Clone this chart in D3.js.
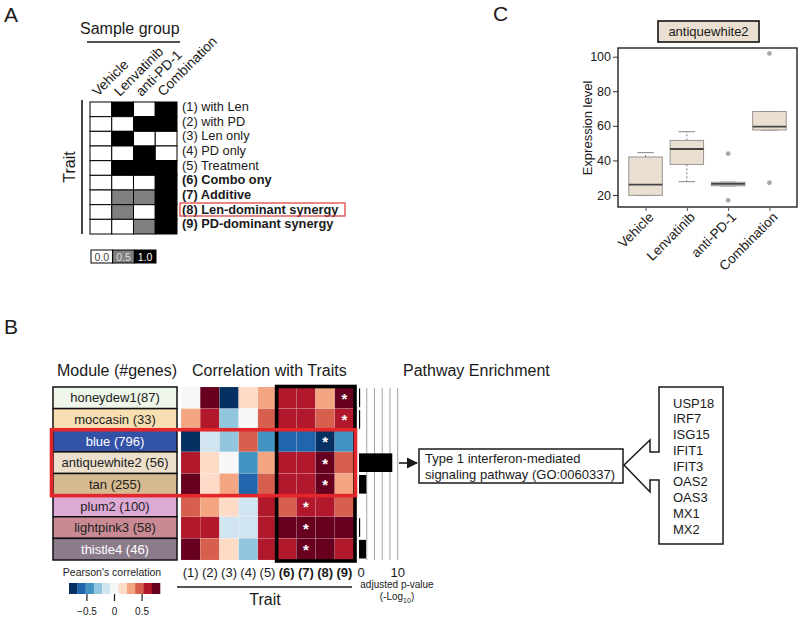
<!DOCTYPE html>
<html><head><meta charset="utf-8">
<script src="https://cdn.jsdelivr.net/npm/d3@7"></script>
<style>body{margin:0;background:#fff}svg{font-family:"Liberation Sans",Arial,Helvetica,sans-serif}</style>
</head><body><svg id="c" width="800" height="620"></svg>
<script>
// ---------- DATA ----------
// Panel A
const groups = ["Vehicle", "Lenvatinib", "anti-PD-1", "Combination"];
const traitNames = ["with Len", "with PD", "Len only", "PD only", "Treatment",
  "Combo ony", "Additive", "Len-dominant synergy", "PD-dominant synergy"];
const traitMatrix = [
  [0, 1, 0, 1],
  [0, 0, 1, 1],
  [0, 1, 0, 0],
  [0, 0, 1, 0],
  [0, 1, 1, 1],
  [0, 0, 0, 1],
  [0, 0.5, 0.5, 1],
  [0, 0.5, 0, 1],
  [0, 0, 0.5, 1]
];
const legendValues = [0, 0.5, 1];
// Panel B
const moduleLabels = ["honeydew1(87)", "moccasin (33)", "blue (796)", "antiquewhite2 (56)",
  "tan (255)", "plum2 (100)", "lightpink3 (58)", "thistle4 (46)"];
const moduleColors = ["#eff6ea", "#f8dfb2", "#3252a8", "#ecdfcc", "#d5b98f", "#ddaad6", "#c98a93", "#8b7b8b"];
const moduleTextColors = ["#222", "#222", "#fff", "#222", "#222", "#222", "#222", "#fff"];
const traitTicks = ["(1)", "(2)", "(3)", "(4)", "(5)", "(6)", "(7)", "(8)", "(9)"];
const corr = [
  [0.0, 0.75, -0.75, 0.15, 0.3, 0.6, 0.6, 0.3, 0.75],
  [0.3, 0.6, -0.3, 0.0, 0.45, 0.6, 0.6, 0.45, 0.6],
  [-0.75, -0.15, -0.3, 0.45, -0.45, -0.6, -0.6, -0.75, -0.45],
  [0.6, 0.15, 0.0, -0.45, 0.3, 0.6, 0.6, 0.75, 0.45],
  [0.75, 0.15, 0.3, -0.6, 0.45, 0.6, 0.6, 0.75, 0.3],
  [0.45, 0.3, 0.15, -0.15, 0.6, 0.45, 0.6, 0.6, 0.45],
  [0.6, 0.6, -0.15, -0.15, 0.6, 0.75, 0.75, 0.75, 0.75],
  [0.75, 0.45, 0.15, -0.3, 0.6, 0.6, 0.75, 0.75, 0.6]
];
const starTrait = [9, 9, 8, 8, 8, 7, 7, 7];
const enrichment = [0.3, 0.3, 0, 8.6, 1.9, 0, 0.3, 1.8];
const enrichTicks = [0, 10];
const corrLegendTicks = [-0.5, 0, 0.5];
const pathwayLines = ["Type 1 interferon-mediated", "signaling pathway (GO:0060337)"];
const genes = ["USP18", "IRF7", "ISG15", "IFIT1", "IFIT3", "OAS2", "OAS3", "MX1", "MX2"];
// Panel C
const boxGroups = ["Vehicle", "Lenvatinib", "anti-PD-1", "Combination"];
const boxQ1 = [19.8, 37.7, 25.3, 57.6];
const boxMedian = [26, 46.6, 26.4, 59.6];
const boxQ3 = [42, 51.6, 27.4, 68.3];
const whiskerLow = [19.8, 27.7, 25.3, 57.6];
const whiskerHigh = [44.5, 56.6, 27.4, 68.3];
const outliers = [[], [], [43.9, 16.9], [101.9, 27.1]];
const yTicksC = [20, 40, 60, 80, 100];

// ---------- DRAW ----------
const svg = d3.select("#c");
svg.append("rect").attr("width", 800).attr("height", 620).attr("fill", "#fff");
const ink = "#1a1a1a";

function label(x, y, s, size, opts = {}) {
  return svg.append("text").attr("x", x).attr("y", y).text(s)
    .attr("font-size", size).attr("fill", opts.fill || ink)
    .attr("text-anchor", opts.anchor || "start")
    .attr("font-weight", opts.bold ? "bold" : "normal");
}

// ===== Panel A =====
label(4, 22, "A", 21);
label(80, 34, "Sample group", 16);
svg.append("line").attr("x1", 87).attr("x2", 180).attr("y1", 42).attr("y2", 42).attr("stroke", ink).attr("stroke-width", 1.6);

const ax = d3.scaleBand().domain(groups).range([90, 177]);
const ay = d3.scaleBand().domain(d3.range(traitNames.length)).range([102, 234]);
const grey = d3.scaleLinear().domain([0, 1]).range(["#ffffff", "#000000"]);

const gA = svg.append("g");
traitMatrix.forEach((row, i) => {
  row.forEach((v, j) => {
    gA.append("rect").attr("x", ax(groups[j])).attr("y", ay(i))
      .attr("width", ax.bandwidth()).attr("height", ay.bandwidth())
      .attr("fill", grey(v)).attr("stroke", "#000").attr("stroke-width", 1);
  });
});
groups.forEach(g => {
  const x = ax(g) + ax.bandwidth() / 2 - 3;
  svg.append("text").attr("transform", `translate(${x},97) rotate(-45)`)
    .text(g).attr("font-size", 13.8).attr("fill", ink);
});
traitNames.forEach((t, i) => {
  label(182, ay(i) + ay.bandwidth() / 2 + 1.8, `(${i + 1}) ${t}`, 12.8, { bold: i >= 5 });
});
// highlight trait 8
svg.append("rect").attr("x", 180).attr("y", ay(7) + ay.bandwidth() / 2 - 9)
  .attr("width", 165).attr("height", 13).attr("fill", "none")
  .attr("stroke", "#e0474a").attr("stroke-width", 1.3);
// Trait axis
svg.append("line").attr("x1", 82).attr("x2", 82).attr("y1", 100).attr("y2", 234).attr("stroke", ink).attr("stroke-width", 1.6);
svg.append("text").attr("transform", "translate(75,167) rotate(-90)").attr("text-anchor", "middle")
  .text("Trait").attr("font-size", 16).attr("fill", ink);
// legend
const lx = d3.scaleBand().domain(legendValues).range([91, 156]);
legendValues.forEach(v => {
  svg.append("rect").attr("x", lx(v)).attr("y", 250).attr("width", lx.bandwidth()).attr("height", 13)
    .attr("fill", grey(v)).attr("stroke", "#000").attr("stroke-width", 1);
  label(lx(v) + lx.bandwidth() / 2, 260.5, v.toFixed(1), 10.5,
    { anchor: "middle", fill: v === 0 ? "#444" : (v === 1 ? "#fff" : "#ddd") });
});

// ===== Panel B =====
label(4, 334, "B", 21);
label(57, 376, "Module (#genes)", 16);
label(192, 376, "Correlation with Traits", 16);
label(403, 376, "Pathway Enrichment", 16);

const my = d3.scaleBand().domain(d3.range(moduleLabels.length)).range([387, 560]);
const hx = d3.scaleBand().domain(traitTicks).range([181, 354]);
const corrColor = d3.scaleQuantize().domain([-0.825, 0.825]).range(d3.schemeRdBu[11].slice().reverse());

moduleLabels.forEach((m, i) => {
  svg.append("rect").attr("x", 53).attr("y", my(i)).attr("width", 124).attr("height", my.bandwidth())
    .attr("fill", moduleColors[i]).attr("stroke", "#111").attr("stroke-width", 1.5);
  label(115, my(i) + my.bandwidth() / 2 + 4.6, m, 13, { anchor: "middle", fill: moduleTextColors[i] });
});
corr.forEach((row, i) => {
  row.forEach((v, j) => {
    svg.append("rect").attr("x", hx(traitTicks[j])).attr("y", my(i))
      .attr("width", hx.bandwidth()).attr("height", my.bandwidth())
      .attr("fill", corrColor(v)).attr("stroke", "rgba(255,255,255,0.18)").attr("stroke-width", 0.6);
  });
  const st = traitTicks[starTrait[i] - 1];
  label(hx(st) + hx.bandwidth() / 2, my(i) + my.bandwidth() / 2 + 6, "*", 15, { anchor: "middle", fill: "#fff", bold: true });
});
// black frame around traits 6-9
svg.append("rect").attr("x", hx("(6)") - 0.5).attr("y", 386.5)
  .attr("width", hx("(9)") + hx.bandwidth() - hx("(6)") + 1.5).attr("height", 174.5)
  .attr("fill", "none").attr("stroke", "#000").attr("stroke-width", 3.6);
// red frame around blue / antiquewhite2 / tan
svg.append("rect").attr("x", 51.5).attr("y", my(2) - 0.5)
  .attr("width", 304).attr("height", my(5) - my(2) + 1)
  .attr("fill", "none").attr("stroke", "#e3262b").attr("stroke-width", 3.6);
// trait axis labels
traitTicks.forEach((t, j) => {
  label(hx(t) + hx.bandwidth() / 2, 577, t, 13, { anchor: "middle", bold: j >= 5 });
});
svg.append("line").attr("x1", 177).attr("x2", 352).attr("y1", 587).attr("y2", 587).attr("stroke", ink).attr("stroke-width", 1.6);
label(265, 605, "Trait", 16, { anchor: "middle" });

// Pearson legend
label(112, 576, "Pearson's correlation", 10.5, { anchor: "middle" });
const lgScale = d3.scaleLinear().domain([-0.825, 0.825]).range([69, 160]);
const bins = corrColor.range();
bins.forEach((c, k) => {
  const ext = corrColor.invertExtent(c);
  svg.append("rect").attr("x", lgScale(ext[0])).attr("y", 583)
    .attr("width", lgScale(ext[1]) - lgScale(ext[0]) + 0.3).attr("height", 11).attr("fill", c);
});
corrLegendTicks.forEach(t => {
  svg.append("line").attr("x1", lgScale(t)).attr("x2", lgScale(t)).attr("y1", 594).attr("y2", 601).attr("stroke", ink).attr("stroke-width", 1.2);
  label(lgScale(t), 615, t === 0 ? "0" : d3.format(".1f")(t).replace("-", "\u2212"), 10, { anchor: "middle" });
});

// enrichment bars
const ex = d3.scaleLinear().domain([0, 10]).range([359, 397.7]);
[2, 4, 6, 8, 10].forEach(t => {
  svg.append("line").attr("x1", ex(t)).attr("x2", ex(t)).attr("y1", 388).attr("y2", 560)
    .attr("stroke", "#8a8a8a").attr("stroke-width", 0.8);
});
enrichment.forEach((v, i) => {
  if (v > 0) svg.append("rect").attr("x", ex(0)).attr("y", my(i) + 1.5)
    .attr("width", ex(v) - ex(0)).attr("height", my.bandwidth() - 3).attr("fill", "#000");
});
enrichTicks.forEach(t => label(ex(t) + (t === 0 ? 2 : 0), 577, String(t), 13, { anchor: "middle" }));
label(397, 588, "adjusted p-value", 10, { anchor: "middle" });
const lt = svg.append("text").attr("x", 397).attr("y", 600).attr("text-anchor", "middle").attr("font-size", 10).attr("fill", ink);
lt.append("tspan").text("(-Log");
lt.append("tspan").text("10").attr("font-size", 7).attr("dy", 3);
lt.append("tspan").text(")").attr("dy", -3);

// arrow to pathway box
svg.append("defs").append("marker").attr("id", "ah").attr("viewBox", "0 0 10 10").attr("refX", 9).attr("refY", 5)
  .attr("markerWidth", 7).attr("markerHeight", 7).attr("orient", "auto")
  .append("path").attr("d", "M0,0 L10,5 L0,10 z").attr("fill", ink);
svg.append("line").attr("x1", 399).attr("x2", 417).attr("y1", 463).attr("y2", 463)
  .attr("stroke", ink).attr("stroke-width", 1.6).attr("marker-end", "url(#ah)");
svg.append("rect").attr("x", 419).attr("y", 449).attr("width", 204).attr("height", 34)
  .attr("fill", "#fff").attr("stroke", ink).attr("stroke-width", 1.5);
pathwayLines.forEach((s, k) => label(425, 462.5 + k * 16, s, 13));

// callout with gene list
const callout = d3.path();
callout.moveTo(659, 387); callout.lineTo(723, 387); callout.lineTo(723, 544); callout.lineTo(659, 544);
callout.lineTo(659, 480); callout.lineTo(650, 480); callout.lineTo(650, 492); callout.lineTo(624, 465);
callout.lineTo(650, 440); callout.lineTo(650, 452); callout.lineTo(659, 452); callout.closePath();
svg.append("path").attr("d", callout.toString()).attr("fill", "#fff").attr("stroke", ink).attr("stroke-width", 1.5);
genes.forEach((g, k) => label(673, 407.5 + k * 15.75, g, 13));

// ===== Panel C =====
label(493, 21, "C", 21);
svg.append("rect").attr("x", 658).attr("y", 21).attr("width", 101).attr("height", 21)
  .attr("fill", "#eadfd0").attr("stroke", "#111").attr("stroke-width", 1.6);
label(708.5, 36, "antiquewhite2", 13, { anchor: "middle" });

const cy = d3.scaleLinear().domain([20, 100]).range([195, 56.7]);
const cx = d3.scalePoint().domain(boxGroups).range([618, 797]).padding(0.667);
svg.append("rect").attr("x", 618).attr("y", 48).attr("width", 179).attr("height", 159)
  .attr("fill", "#fff").attr("stroke", "#111").attr("stroke-width", 1.3);
const yAx = svg.append("g").attr("transform", "translate(618,0)")
  .call(d3.axisLeft(cy).tickValues(yTicksC).tickSize(5).tickPadding(2));
yAx.select(".domain").remove();
yAx.selectAll("text").attr("font-size", 12.5).attr("fill", ink).attr("font-family", null);
yAx.selectAll("line").attr("stroke", "#333");
const xAx = svg.append("g").attr("transform", "translate(0,207)")
  .call(d3.axisBottom(cx).tickSize(4).tickFormat(""));
xAx.select(".domain").remove();
xAx.selectAll("line").attr("stroke", "#555");
boxGroups.forEach(g => {
  svg.append("text").attr("transform", `translate(${cx(g) + 9},218) rotate(-45)`)
    .attr("text-anchor", "end").text(g).attr("font-size", 13.5).attr("fill", ink);
});
svg.append("text").attr("transform", "translate(592,128) rotate(-90)").attr("text-anchor", "middle")
  .text("Expression level").attr("font-size", 13).attr("fill", ink);

const bw = 33.5, capW = 16.5;
boxGroups.forEach((g, i) => {
  const x = cx(g);
  // whiskers
  svg.append("line").attr("x1", x).attr("x2", x).attr("y1", cy(boxQ3[i])).attr("y2", cy(whiskerHigh[i]))
    .attr("stroke", "#666").attr("stroke-dasharray", "2,2").attr("stroke-width", 0.9);
  svg.append("line").attr("x1", x).attr("x2", x).attr("y1", cy(boxQ1[i])).attr("y2", cy(whiskerLow[i]))
    .attr("stroke", "#666").attr("stroke-dasharray", "2,2").attr("stroke-width", 0.9);
  [whiskerLow[i], whiskerHigh[i]].forEach(w => {
    svg.append("line").attr("x1", x - capW / 2).attr("x2", x + capW / 2).attr("y1", cy(w)).attr("y2", cy(w))
      .attr("stroke", "#777").attr("stroke-width", 0.9);
  });
  svg.append("rect").attr("x", x - bw / 2).attr("y", cy(boxQ3[i])).attr("width", bw)
    .attr("height", cy(boxQ1[i]) - cy(boxQ3[i]))
    .attr("fill", "#eadfd0").attr("stroke", "#8c8c8c").attr("stroke-width", 0.9);
  svg.append("line").attr("x1", x - bw / 2).attr("x2", x + bw / 2).attr("y1", cy(boxMedian[i])).attr("y2", cy(boxMedian[i]))
    .attr("stroke", "#444").attr("stroke-width", 1.8);
  outliers[i].forEach(o => {
    svg.append("circle").attr("cx", x).attr("cy", cy(o)).attr("r", 2.4).attr("fill", "#a8a8a8");
  });
});
</script></body></html>
